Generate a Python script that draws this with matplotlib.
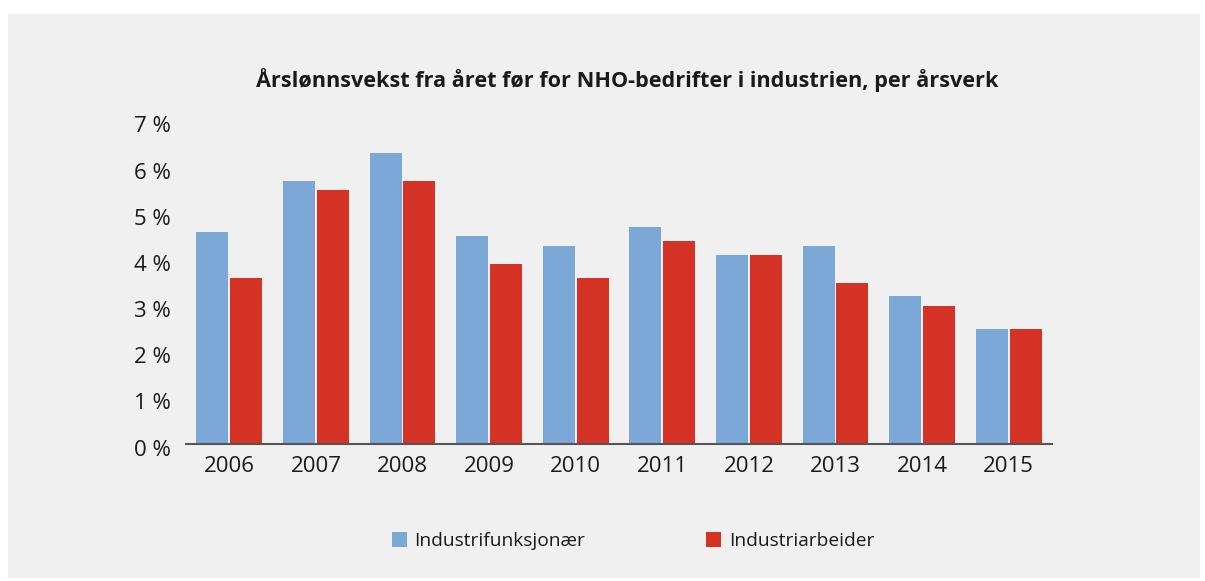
import matplotlib
matplotlib.use("Agg")
import matplotlib.pyplot as plt
from matplotlib.patches import Rectangle, Patch
from matplotlib.transforms import ScaledTranslation
import numpy as np

years = ["2006", "2007", "2008", "2009", "2010", "2011", "2012", "2013", "2014", "2015"]
funksjonaer = [4.6, 5.7, 6.3, 4.5, 4.3, 4.7, 4.1, 4.3, 3.2, 2.5]
arbeider = [3.6, 5.5, 5.7, 3.9, 3.6, 4.4, 4.1, 3.5, 3.0, 2.5]
yticks = [0, 1, 2, 3, 4, 5, 6, 7]
ytick_labels = [f"{v} %" for v in yticks]
title = "Årslønnsvekst fra året før for NHO-bedrifter i industrien, per årsverk"
series_names = ["Industrifunksjonær", "Industriarbeider"]

BLUE = "#7ba8d6"
RED = "#d53226"
PANEL = "#f0f0f0"
TEXT = "#1a1a1a"

plt.rcParams['font.family'] = ['Open Sans', 'DejaVu Sans']

W, H = 1205, 581
fig = plt.figure(figsize=(W / 100, H / 100), dpi=100, facecolor="white")
fig.patches.append(Rectangle((8 / W, 1 - 578 / H), (1200 - 8) / W, (578 - 14) / H,
                             transform=fig.transFigure, facecolor=PANEL,
                             edgecolor="none", zorder=-10))

ax = fig.add_axes([186 / W, 1 - 444 / H, (1052 - 186) / W, (444 - 121) / H])
ax.set_facecolor("none")

x = np.arange(len(years))
w = 0.37
off = 0.196
ax.bar(x - off, funksjonaer, width=w, color=BLUE, label=series_names[0])
ax.bar(x + off, arbeider, width=w, color=RED, label=series_names[1])

ax.set_xlim(-0.5, len(years) - 0.5)
ax.set_ylim(0, 7)
ax.set_yticks(yticks)
ax.set_yticklabels(ytick_labels)
ax.set_xticks(x)
ax.set_xticklabels(years)
ax.tick_params(axis="both", length=0, labelsize=16, colors=TEXT)
ax.tick_params(axis="y", pad=11)
ax.tick_params(axis="x", pad=9)
shift = ScaledTranslation(0, -6 / 100, fig.dpi_scale_trans)
for lab in ax.get_yticklabels():
    lab.set_va("center")
    lab.set_transform(lab.get_transform() + shift)
for s in ["top", "right", "left"]:
    ax.spines[s].set_visible(False)
ax.spines["bottom"].set_color("#555555")
ax.spines["bottom"].set_linewidth(1.5)

fig.text(627 / W, 1 - 80 / H, title, ha="center", va="center",
         fontsize=15.6, fontweight="bold", color=TEXT)

handles = [Patch(facecolor=BLUE), Patch(facecolor=RED)]
leg = fig.legend(handles, series_names, loc="center", bbox_to_anchor=(633 / W, 1 - 541 / H),
                 ncol=2, frameon=False, fontsize=13.8, handlelength=0.8, handleheight=0.8,
                 handletextpad=0.4, columnspacing=6.3)
for t in leg.get_texts():
    t.set_color(TEXT)

fig.savefig("out.png", dpi=100, facecolor="white")
